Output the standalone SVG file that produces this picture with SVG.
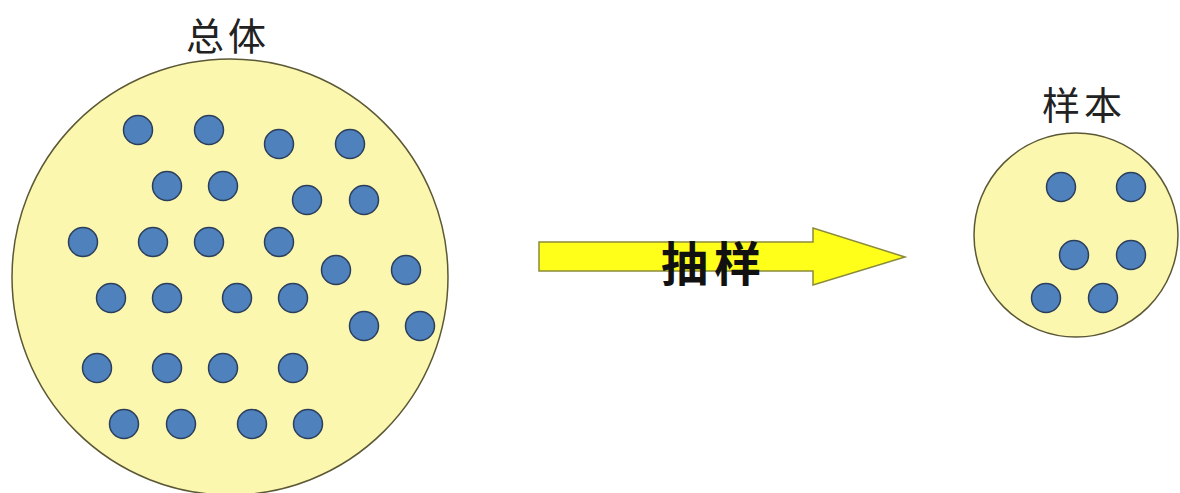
<svg xmlns="http://www.w3.org/2000/svg" width="1180" height="493" viewBox="0 0 1180 493">
<style>
.pool{fill:#FCF7AE;stroke:#5B5836;stroke-width:1.5}
.dot{fill:#4F81BD;stroke:#2B3F5C;stroke-width:1.5}
.lbl{font-family:"Noto Sans CJK SC","Noto Sans",sans-serif;font-size:38px;fill:#222;text-anchor:middle;letter-spacing:4px}
.arrowtxt{font-family:"Noto Sans CJK SC",sans-serif;font-size:47px;font-weight:bold;fill:#111;text-anchor:middle;letter-spacing:6px}
</style>
<rect width="1180" height="493" fill="#FFFFFF"/>
<g id="population">
<circle class="pool" cx="230" cy="277" r="218"/>
<text class="lbl" x="228" y="50">总体</text>
<g>
<circle class="dot" cx="138" cy="130" r="14.5"/><circle class="dot" cx="209" cy="130" r="14.5"/><circle class="dot" cx="279" cy="144" r="14.5"/><circle class="dot" cx="350" cy="144" r="14.5"/>
<circle class="dot" cx="167" cy="186" r="14.5"/><circle class="dot" cx="223" cy="186" r="14.5"/><circle class="dot" cx="307" cy="200" r="14.5"/><circle class="dot" cx="364" cy="200" r="14.5"/>
<circle class="dot" cx="83" cy="242" r="14.5"/><circle class="dot" cx="153" cy="242" r="14.5"/><circle class="dot" cx="209" cy="242" r="14.5"/><circle class="dot" cx="279" cy="242" r="14.5"/>
<circle class="dot" cx="336" cy="270" r="14.5"/><circle class="dot" cx="406" cy="270" r="14.5"/>
<circle class="dot" cx="111" cy="298" r="14.5"/><circle class="dot" cx="167" cy="298" r="14.5"/><circle class="dot" cx="237" cy="298" r="14.5"/><circle class="dot" cx="293" cy="298" r="14.5"/>
<circle class="dot" cx="364" cy="326" r="14.5"/><circle class="dot" cx="420" cy="326" r="14.5"/>
<circle class="dot" cx="97" cy="368" r="14.5"/><circle class="dot" cx="167" cy="368" r="14.5"/><circle class="dot" cx="223" cy="368" r="14.5"/><circle class="dot" cx="293" cy="368" r="14.5"/>
<circle class="dot" cx="124" cy="424" r="14.5"/><circle class="dot" cx="181" cy="424" r="14.5"/><circle class="dot" cx="252" cy="424" r="14.5"/><circle class="dot" cx="308" cy="424" r="14.5"/>
</g>
</g>
<g id="connectors">
<path d="M539,242 H813 V228 L905,257 L813,285 V271 H539 Z" fill="#FFFF1A" stroke="#8A8A3A" stroke-width="1.5"/>
<text class="arrowtxt" x="714" y="281">抽样</text>
</g>
<g id="sample">
<circle class="pool" cx="1076" cy="235" r="102"/>
<text class="lbl" x="1084" y="119">样本</text>
<circle class="dot" cx="1061" cy="187" r="14.5"/><circle class="dot" cx="1131" cy="187" r="14.5"/>
<circle class="dot" cx="1074" cy="255" r="14.5"/><circle class="dot" cx="1131" cy="255" r="14.5"/>
<circle class="dot" cx="1046" cy="298" r="14.5"/><circle class="dot" cx="1103" cy="298" r="14.5"/>
</g>
</svg>
